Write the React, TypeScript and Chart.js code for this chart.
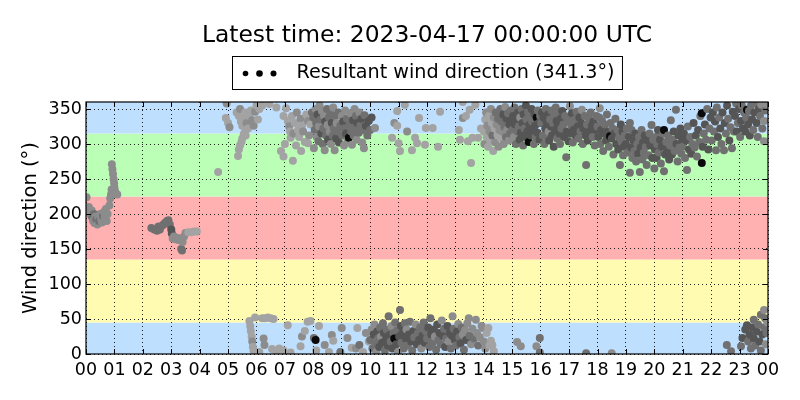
import { useEffect, useRef } from "react";
import { Chart, registerables } from "chart.js";

Chart.register(...registerables);

const TITLE = "Latest time: 2023-04-17 00:00:00 UTC";
const LEGEND_LABEL = "Resultant wind direction (341.3°)";
const Y_LABEL = "Wind direction (°)";
const FONT = "'DejaVu Sans', 'Liberation Sans', sans-serif";

const hourTicks = [0, 1, 2, 3, 4, 5, 6, 7, 8, 9, 10, 11, 12, 13, 14, 15, 16, 17, 18, 19, 20, 21, 22, 23, 24];
const hourLabels = ["00", "01", "02", "03", "04", "05", "06", "07", "08", "09", "10", "11", "12", "13", "14", "15", "16", "17", "18", "19", "20", "21", "22", "23", "00"];
const dirTicks = [0, 50, 100, 150, 200, 250, 300, 350];

const bandEdges = [0, 45, 135, 225, 315, 360];
const bandColors = ["#bfdfff", "#fffbb0", "#ffb0b0", "#bbffb7", "#bfdfff"];
const shadeColors = ["#ffffff", "#a3a3a3", "#8c8c8c", "#707070", "#555555", "#0a0a0a"];

// [hour of day, direction in degrees, shade level 1..5]
type Obs = [number, number, number];

const dir00to05: Obs[] = [
  [0.02, 224, 2], [0.05, 208, 2], [0.08, 203, 2], [0.1, 210, 2], [0.13, 206, 2], [0.16, 199, 2], [0.2, 205, 2],
  [0.22, 195, 3], [0.25, 190, 2], [0.28, 200, 3], [0.3, 187, 2], [0.33, 196, 2], [0.36, 192, 3], [0.4, 185, 2],
  [0.43, 195, 2], [0.46, 190, 3], [0.5, 200, 2], [0.53, 193, 2], [0.56, 188, 2], [0.6, 197, 3], [0.63, 203, 2],
  [0.66, 195, 2], [0.7, 207, 2], [0.73, 190, 2], [0.76, 200, 2], [0.82, 212, 2], [0.85, 222, 2], [0.88, 228, 2],
  [0.9, 235, 2], [0.91, 271, 2], [0.93, 264, 2], [0.95, 257, 2], [0.97, 250, 2], [0.99, 244, 2], [1.0, 238, 2],
  [1.02, 233, 2], [1.05, 229, 2], [1.1, 228, 2],
  [2.3, 180, 3], [2.4, 178, 3], [2.5, 176, 3], [2.55, 182, 3], [2.6, 178, 3], [2.7, 184, 3], [2.75, 186, 3],
  [2.8, 188, 3], [2.85, 190, 3], [2.9, 191, 3], [2.95, 185, 3], [3.0, 178, 4], [3.02, 172, 4], [3.05, 165, 2],
  [3.1, 168, 2], [3.15, 164, 2], [3.2, 166, 2], [3.25, 163, 2], [3.3, 165, 2], [3.35, 150, 3], [3.38, 148, 3],
  [3.4, 160, 2], [3.45, 168, 2], [3.5, 173, 2], [3.6, 174, 1], [3.7, 174, 1], [3.8, 175, 1], [3.9, 175, 1],
];

const dir05to08Top: Obs[] = [
  [4.65, 260, 1], [4.92, 337, 1], [4.95, 358, 2], [5.0, 330, 1], [5.05, 324, 2], [5.3, 345, 1], [5.35, 283, 1],
  [5.38, 292, 1], [5.38, 340, 1], [5.42, 350, 2], [5.42, 298, 1], [5.45, 332, 1], [5.47, 303, 1], [5.5, 326, 1],
  [5.5, 308, 1], [5.55, 336, 1], [5.55, 314, 1], [5.6, 345, 1], [5.6, 318, 1], [5.62, 312, 1], [5.65, 330, 2],
  [5.7, 322, 1], [5.75, 340, 1], [5.8, 348, 1], [5.85, 334, 2], [5.9, 326, 2], [5.95, 346, 2], [6.0, 355, 1],
  [6.05, 335, 1], [6.1, 350, 1], [6.2, 355, 1], [6.45, 357, 1], [6.7, 352, 1], [6.86, 290, 1], [6.95, 282, 1],
  [6.95, 340, 1], [7.0, 300, 1], [7.04, 351, 1], [7.1, 333, 1], [7.15, 325, 2], [7.18, 318, 1], [7.2, 309, 1],
  [7.25, 340, 1], [7.28, 276, 1], [7.3, 315, 2], [7.35, 330, 1], [7.39, 298, 1], [7.42, 345, 2], [7.46, 320, 1],
  [7.5, 310, 1], [7.55, 336, 2], [7.57, 290, 1], [7.6, 326, 1], [7.64, 318, 2], [7.7, 303, 1], [7.75, 342, 1],
  [7.81, 333, 2], [7.81, 301, 1], [7.85, 312, 2], [7.9, 328, 1], [7.95, 345, 3],
];

const dir05to08Low: Obs[] = [
  [5.75, 47, 1], [5.78, 40, 1], [5.8, 33, 1], [5.83, 25, 1], [5.85, 18, 2], [5.87, 10, 1], [5.9, 4, 1],
  [5.95, 52, 1], [6.1, 3, 1], [6.2, 51, 1], [6.25, 22, 2], [6.28, 13, 2], [6.3, 51, 1], [6.4, 52, 1],
  [6.5, 51, 1], [6.55, 7, 1], [6.6, 50, 1], [6.7, 3, 1], [6.8, 8, 1], [6.95, 5, 1], [7.1, 41, 1], [7.2, 2, 1],
  [7.55, 11, 1], [7.6, 25, 2], [7.7, 33, 1], [7.8, 46, 1], [7.9, 47, 1],
];

const dir08to10Top: Obs[] = [
  [8.0, 338, 3], [8.02, 294, 2], [8.05, 320, 3], [8.08, 350, 2], [8.1, 330, 3], [8.12, 310, 2], [8.15, 342, 4],
  [8.18, 304, 3], [8.2, 325, 2], [8.22, 355, 2], [8.25, 335, 3], [8.28, 315, 4], [8.3, 347, 2], [8.33, 300, 3],
  [8.35, 322, 3], [8.38, 340, 2], [8.4, 291, 2], [8.42, 332, 4], [8.45, 312, 3], [8.48, 350, 3], [8.5, 327, 2],
  [8.52, 306, 4], [8.55, 338, 3], [8.58, 318, 2], [8.6, 345, 3], [8.62, 300, 2], [8.65, 330, 4], [8.68, 312, 3],
  [8.7, 352, 2], [8.72, 322, 3], [8.75, 291, 2], [8.78, 340, 3], [8.8, 308, 4], [8.82, 330, 2], [8.85, 318, 3],
  [8.88, 345, 3], [8.9, 302, 4], [8.95, 326, 3], [9.0, 340, 2], [9.02, 312, 3], [9.05, 332, 4], [9.08, 298, 2],
  [9.1, 322, 3], [9.12, 348, 2], [9.15, 315, 4], [9.18, 336, 3], [9.2, 305, 2], [9.25, 309, 5], [9.28, 328, 3],
  [9.3, 344, 2], [9.33, 318, 3], [9.36, 299, 2], [9.4, 334, 4], [9.42, 312, 3], [9.45, 350, 2], [9.48, 324, 3],
  [9.5, 340, 3], [9.52, 306, 2], [9.55, 330, 4], [9.6, 316, 3], [9.62, 345, 2], [9.65, 326, 3], [9.7, 336, 4],
  [9.72, 302, 2], [9.75, 320, 3], [9.78, 294, 2], [9.8, 341, 3], [9.85, 326, 4], [9.9, 312, 3], [9.95, 333, 4],
  [10.0, 320, 3], [10.05, 338, 4], [10.17, 323, 2],
];

const dir08to10Low: Obs[] = [
  [8.02, 23, 3], [8.08, 20, 5], [8.1, 5, 1], [8.2, 40, 1], [8.4, 13, 2], [8.55, 3, 1], [8.65, 27, 2],
  [8.7, 19, 1], [8.95, 3, 3], [9.0, 37, 2], [9.2, 23, 2], [9.35, 9, 1], [9.5, 8, 2], [9.55, 37, 1],
  [9.62, 13, 3], [9.75, 3, 1], [9.85, 30, 2], [9.95, 18, 1],
];

const dir10to14Top: Obs[] = [
  [10.77, 309, 1], [10.85, 330, 2], [10.95, 347, 1], [10.95, 326, 1], [11.0, 301, 1], [11.05, 290, 1],
  [11.22, 356, 1], [11.3, 318, 2], [11.47, 291, 1], [11.58, 309, 1], [11.65, 301, 1], [11.72, 337, 1],
  [11.93, 299, 1], [11.96, 323, 1], [12.2, 323, 1], [12.39, 296, 1], [12.46, 346, 1], [13.12, 320, 1],
  [13.16, 306, 1], [13.26, 337, 2], [13.26, 360, 1], [13.37, 340, 1], [13.44, 304, 1], [13.5, 349, 1],
  [13.55, 273, 1], [13.6, 309, 1], [13.7, 356, 1], [13.8, 309, 1], [13.9, 322, 1],
];

const dir10to12Low: Obs[] = [
  [10.0, 20, 3], [10.05, 35, 2], [10.08, 8, 3], [10.12, 28, 4], [10.15, 42, 2], [10.18, 15, 3], [10.22, 3, 2],
  [10.25, 32, 4], [10.28, 22, 3], [10.32, 10, 4], [10.35, 38, 3], [10.38, 25, 2], [10.42, 16, 4], [10.45, 44, 3],
  [10.48, 30, 4], [10.52, 5, 3], [10.55, 20, 4], [10.58, 35, 3], [10.62, 12, 4], [10.65, 54, 3], [10.68, 27, 4],
  [10.72, 18, 3], [10.75, 40, 2], [10.78, 8, 4], [10.82, 30, 3], [10.85, 22, 5], [10.88, 45, 3], [10.92, 14, 4],
  [10.95, 34, 3], [10.98, 3, 2], [11.02, 25, 4], [11.05, 63, 3], [11.08, 40, 4], [11.1, 16, 3], [11.14, 30, 4],
  [11.18, 8, 3], [11.22, 44, 3], [11.25, 22, 4], [11.28, 35, 2], [11.32, 12, 3], [11.36, 28, 4], [11.4, 46, 3],
  [11.44, 18, 4], [11.48, 5, 3], [11.52, 33, 4], [11.55, 24, 3], [11.6, 42, 2], [11.64, 14, 4], [11.68, 30, 3],
  [11.72, 20, 4], [11.76, 38, 3], [11.8, 8, 2], [11.84, 26, 4], [11.88, 45, 3], [11.92, 16, 4], [11.96, 32, 3],
];

const dir12to15Low: Obs[] = [
  [12.0, 22, 3], [12.04, 38, 4], [12.08, 10, 3], [12.12, 51, 3], [12.15, 28, 4], [12.2, 16, 3], [12.24, 35, 4],
  [12.28, 25, 2], [12.32, 6, 3], [12.36, 42, 4], [12.4, 20, 3], [12.44, 30, 4], [12.48, 14, 3], [12.52, 48, 2],
  [12.56, 26, 4], [12.6, 36, 3], [12.64, 10, 4], [12.68, 22, 3], [12.72, 40, 4], [12.76, 18, 2], [12.8, 30, 4],
  [12.84, 8, 3], [12.88, 26, 4], [12.9, 54, 2], [12.94, 36, 3], [12.98, 20, 4], [13.02, 12, 3], [13.06, 32, 4],
  [13.1, 43, 2], [13.14, 24, 3], [13.18, 15, 4], [13.22, 38, 3], [13.26, 28, 2], [13.3, 6, 3], [13.34, 34, 2],
  [13.38, 20, 4], [13.42, 44, 2], [13.47, 51, 2], [13.5, 26, 3], [13.55, 14, 2], [13.6, 36, 2], [13.65, 22, 3],
  [13.72, 49, 2], [13.76, 30, 2], [13.8, 12, 3], [13.86, 24, 2], [13.92, 40, 2], [13.97, 37, 2], [14.0, 18, 2],
  [14.05, 8, 2], [14.1, 30, 1], [14.16, 37, 1], [14.2, 12, 1], [14.25, 19, 1], [14.3, 13, 1], [14.35, 4, 1],
];

const dir14to16Top: Obs[] = [
  [14.0, 318, 1], [14.02, 300, 2], [14.05, 335, 1], [14.08, 345, 2], [14.1, 310, 1], [14.12, 326, 2],
  [14.15, 296, 1], [14.18, 340, 1], [14.2, 318, 2], [14.22, 305, 1], [14.25, 350, 2], [14.28, 330, 1],
  [14.3, 312, 3], [14.33, 290, 1], [14.35, 338, 2], [14.38, 322, 1], [14.4, 302, 2], [14.42, 345, 3],
  [14.45, 328, 2], [14.48, 313, 1], [14.5, 336, 3], [14.52, 296, 2], [14.55, 320, 2], [14.58, 350, 3],
  [14.6, 308, 1], [14.62, 332, 3], [14.65, 318, 2], [14.68, 342, 4], [14.7, 300, 2], [14.72, 325, 3],
  [14.75, 353, 2], [14.78, 310, 3], [14.8, 336, 4], [14.82, 320, 2], [14.85, 344, 3], [14.88, 305, 2],
  [14.9, 328, 4], [14.92, 315, 3], [14.95, 348, 3], [14.98, 333, 4], [15.0, 320, 3], [15.03, 340, 4],
  [15.06, 310, 2], [15.08, 352, 3], [15.1, 328, 4], [15.13, 300, 3], [15.16, 336, 4], [15.18, 318, 3],
  [15.2, 345, 4], [15.23, 325, 3], [15.26, 306, 4], [15.28, 338, 2], [15.3, 316, 4], [15.33, 350, 3],
  [15.36, 330, 4], [15.38, 298, 3], [15.4, 342, 4], [15.43, 322, 3], [15.46, 310, 4], [15.48, 355, 4],
  [15.5, 335, 3], [15.53, 318, 4], [15.56, 345, 3], [15.58, 303, 5], [15.6, 327, 4], [15.63, 340, 3],
  [15.66, 312, 4], [15.68, 350, 4], [15.7, 332, 3], [15.73, 320, 4], [15.76, 300, 3], [15.78, 343, 4],
  [15.8, 326, 4], [15.83, 310, 3], [15.86, 338, 5], [15.88, 316, 4], [15.9, 348, 3], [15.93, 330, 4],
  [15.96, 306, 4], [15.98, 340, 3],
];

const dir16to18Top: Obs[] = [
  [16.02, 330, 3], [16.05, 345, 4], [16.08, 312, 3], [16.1, 338, 4], [16.13, 300, 3], [16.16, 322, 4],
  [16.18, 350, 3], [16.2, 332, 4], [16.23, 310, 3], [16.26, 342, 4], [16.28, 318, 2], [16.3, 305, 4],
  [16.33, 335, 3], [16.36, 325, 4], [16.38, 348, 3], [16.4, 312, 4], [16.43, 330, 3], [16.46, 296, 4],
  [16.48, 340, 3], [16.5, 320, 4], [16.53, 352, 3], [16.56, 333, 4], [16.58, 308, 3], [16.6, 326, 4],
  [16.63, 343, 3], [16.66, 315, 4], [16.68, 300, 3], [16.7, 336, 4], [16.73, 322, 3], [16.76, 347, 4],
  [16.8, 328, 3], [16.83, 310, 4], [16.86, 340, 3], [16.9, 281, 3], [16.92, 318, 4], [16.95, 332, 3],
  [16.98, 304, 4], [17.0, 338, 3], [17.03, 354, 2], [17.05, 315, 4], [17.08, 326, 3], [17.1, 344, 4],
  [17.13, 302, 3], [17.16, 320, 4], [17.2, 335, 3], [17.23, 312, 4], [17.26, 346, 3], [17.3, 325, 4],
  [17.33, 308, 3], [17.36, 338, 4], [17.4, 318, 3], [17.43, 330, 4], [17.45, 349, 2], [17.48, 300, 3],
  [17.5, 322, 4], [17.55, 340, 3], [17.58, 312, 4], [17.6, 270, 3], [17.63, 328, 3], [17.66, 305, 4],
  [17.7, 336, 3], [17.73, 318, 4], [17.76, 345, 3], [17.8, 326, 4], [17.83, 310, 3], [17.86, 332, 4],
  [17.9, 298, 3], [17.93, 320, 4], [17.96, 340, 3],
];

const dir18to20Top: Obs[] = [
  [18.0, 325, 3], [18.03, 310, 4], [18.06, 338, 3], [18.08, 351, 2], [18.1, 300, 3], [18.13, 320, 4],
  [18.16, 333, 3], [18.2, 290, 3], [18.23, 315, 4], [18.26, 328, 3], [18.3, 305, 4], [18.33, 342, 3],
  [18.36, 318, 4], [18.4, 296, 3], [18.44, 311, 5], [18.46, 330, 3], [18.5, 308, 4], [18.53, 322, 3],
  [18.56, 285, 3], [18.6, 315, 4], [18.63, 336, 3], [18.66, 300, 4], [18.7, 320, 3], [18.73, 292, 4],
  [18.76, 310, 3], [18.79, 270, 3], [18.82, 328, 4], [18.85, 303, 3], [18.88, 318, 4], [18.9, 284, 3],
  [18.93, 296, 4], [18.96, 312, 3], [19.0, 300, 4], [19.03, 322, 3], [19.06, 288, 3], [19.1, 310, 4],
  [19.14, 330, 3], [19.14, 259, 3], [19.18, 295, 4], [19.2, 320, 3], [19.23, 280, 3], [19.26, 305, 4],
  [19.3, 290, 3], [19.33, 315, 4], [19.36, 275, 3], [19.4, 300, 3], [19.43, 286, 4], [19.46, 310, 3],
  [19.49, 260, 3], [19.52, 295, 4], [19.55, 320, 3], [19.58, 278, 3], [19.6, 302, 4], [19.63, 288, 3],
  [19.66, 312, 4], [19.7, 296, 3], [19.73, 270, 3], [19.76, 305, 4], [19.8, 284, 3], [19.83, 315, 3],
  [19.86, 298, 4], [19.9, 327, 3], [19.93, 280, 4], [19.96, 306, 3],
];

const dir20to22Top: Obs[] = [
  [20.0, 265, 3], [20.02, 292, 4], [20.05, 310, 3], [20.08, 280, 4], [20.1, 300, 3], [20.13, 320, 4],
  [20.16, 288, 3], [20.2, 306, 4], [20.23, 272, 3], [20.26, 296, 4], [20.3, 315, 3], [20.34, 320, 5],
  [20.34, 261, 3], [20.38, 285, 4], [20.42, 303, 3], [20.45, 292, 4], [20.48, 312, 3], [20.52, 278, 4],
  [20.55, 298, 3], [20.58, 334, 3], [20.62, 285, 4], [20.65, 306, 3], [20.68, 318, 4], [20.72, 290, 3],
  [20.76, 349, 3], [20.78, 300, 4], [20.82, 275, 3], [20.85, 312, 4], [20.88, 295, 3], [20.92, 322, 4],
  [20.95, 286, 3], [20.98, 305, 4], [21.0, 296, 3], [21.04, 315, 4], [21.08, 280, 3], [21.12, 305, 4],
  [21.15, 263, 3], [21.18, 325, 3], [21.22, 292, 4], [21.26, 310, 3], [21.3, 286, 4], [21.34, 300, 3],
  [21.38, 330, 4], [21.42, 295, 3], [21.46, 312, 4], [21.5, 282, 3], [21.54, 320, 4], [21.58, 303, 3],
  [21.62, 340, 3], [21.67, 273, 5], [21.67, 344, 5], [21.7, 296, 4], [21.74, 315, 3], [21.78, 328, 4],
  [21.82, 306, 3], [21.86, 350, 3], [21.9, 292, 4], [21.94, 322, 3], [21.98, 338, 4],
];

const dir22to24Top: Obs[] = [
  [22.02, 305, 3], [22.06, 345, 4], [22.1, 318, 3], [22.14, 332, 4], [22.17, 291, 3], [22.2, 352, 3],
  [22.24, 310, 4], [22.28, 338, 3], [22.32, 322, 4], [22.36, 300, 3], [22.4, 345, 4], [22.45, 291, 3],
  [22.48, 330, 4], [22.52, 315, 3], [22.56, 355, 4], [22.6, 336, 3], [22.64, 305, 4], [22.68, 324, 3],
  [22.73, 294, 3], [22.76, 346, 4], [22.8, 318, 3], [22.84, 340, 4], [22.88, 358, 3], [22.9, 318, 4],
  [22.94, 330, 3], [22.98, 350, 4], [23.02, 310, 3], [23.05, 333, 4], [23.08, 355, 3], [23.12, 322, 4],
  [23.16, 345, 3], [23.2, 318, 4], [23.23, 338, 3], [23.26, 349, 5], [23.3, 328, 4], [23.33, 347, 3],
  [23.36, 312, 4], [23.4, 355, 3], [23.44, 335, 4], [23.48, 320, 3], [23.52, 345, 4], [23.56, 358, 3],
  [23.6, 330, 4], [23.64, 310, 3], [23.68, 350, 4], [23.72, 340, 3], [23.76, 356, 2], [23.8, 322, 3],
  [23.86, 333, 2], [23.86, 304, 2], [23.9, 348, 3], [23.94, 357, 2],
];

const dir15to24Low: Obs[] = [
  [15.17, 17, 2], [15.3, 11, 2], [15.85, 11, 2], [15.97, 23, 3], [15.97, 2, 3], [17.6, 1, 3], [18.5, 1, 2],
  [22.55, 13, 3], [22.7, 4, 3], [23.05, 11, 3], [23.1, 23, 4], [23.2, 35, 4], [23.26, 41, 4], [23.3, 18, 3],
  [23.35, 28, 4], [23.4, 8, 3], [23.45, 38, 4], [23.5, 49, 3], [23.5, 22, 4], [23.55, 12, 3], [23.6, 32, 4],
  [23.65, 42, 3], [23.7, 18, 4], [23.75, 56, 3], [23.75, 5, 3], [23.8, 28, 4], [23.86, 63, 2], [23.86, 38, 3],
  [23.9, 51, 3], [23.92, 14, 2], [23.95, 30, 3], [23.98, 45, 2],
];

const observations: Obs[] = [
  ...dir00to05, ...dir05to08Top, ...dir05to08Low, ...dir08to10Top, ...dir08to10Low,
  ...dir10to14Top, ...dir10to12Low, ...dir12to15Low, ...dir14to16Top, ...dir16to18Top,
  ...dir18to20Top, ...dir20to22Top, ...dir22to24Top, ...dir15to24Low,
];

const decorPlugin = {
  id: "decor",
  beforeDraw(chart: any) {
    const { ctx, chartArea: a, scales } = chart;
    const y = scales.y;
    ctx.save();
    ctx.fillStyle = "#ffffff";
    ctx.fillRect(0, 0, chart.width, chart.height);
    for (let i = 0; i < bandColors.length; i++) {
      const y0 = y.getPixelForValue(bandEdges[i]);
      const y1 = y.getPixelForValue(bandEdges[i + 1]);
      ctx.fillStyle = bandColors[i];
      ctx.fillRect(a.left, y1, a.right - a.left, y0 - y1);
    }
    ctx.restore();
  },
  afterDraw(chart: any) {
    const { ctx, chartArea: a, scales } = chart;
    const x = scales.x;
    const y = scales.y;
    ctx.save();
    // inward ticks
    ctx.strokeStyle = "#000";
    ctx.lineWidth = 1;
    ctx.beginPath();
    for (const v of hourTicks) {
      const px = Math.round(x.getPixelForValue(v)) + 0.5;
      ctx.moveTo(px, a.bottom);
      ctx.lineTo(px, a.bottom - 5);
      ctx.moveTo(px, a.top);
      ctx.lineTo(px, a.top + 5);
    }
    for (const v of dirTicks) {
      const py = Math.round(y.getPixelForValue(v)) + 0.5;
      ctx.moveTo(a.left, py);
      ctx.lineTo(a.left + 5, py);
      ctx.moveTo(a.right, py);
      ctx.lineTo(a.right - 5, py);
    }
    ctx.stroke();
    // frame
    ctx.strokeStyle = "#000";
    ctx.lineWidth = 1.2;
    ctx.strokeRect(a.left, a.top, a.right - a.left, a.bottom - a.top);

    const cx = (a.left + a.right) / 2;
    // title
    ctx.fillStyle = "#000";
    ctx.font = `23.4px ${FONT}`;
    ctx.textAlign = "center";
    ctx.textBaseline = "alphabetic";
    ctx.fillText(TITLE, cx, 42);

    // legend
    ctx.font = `19.2px ${FONT}`;
    const tw = ctx.measureText(LEGEND_LABEL).width;
    const boxW = 64 + tw + 8;
    const boxH = 33;
    const bx = Math.round(cx - boxW / 2) + 0.5;
    const by = 56.5;
    ctx.fillStyle = "#fff";
    ctx.fillRect(bx, by, boxW, boxH);
    ctx.strokeStyle = "#000";
    ctx.lineWidth = 1;
    ctx.strokeRect(bx, by, boxW, boxH);
    ctx.fillStyle = "#000";
    const dotR = [2.8, 3.3, 3.0];
    [13, 27, 41].forEach((dx, i) => {
      ctx.beginPath();
      ctx.arc(bx + dx, by + 17, dotR[i], 0, Math.PI * 2);
      ctx.fill();
    });
    ctx.textAlign = "left";
    ctx.textBaseline = "middle";
    ctx.fillText(LEGEND_LABEL, bx + 64, by + 16.5);
    ctx.restore();
  },
};

export default function App() {
  const canvasRef = useRef<HTMLCanvasElement | null>(null);

  useEffect(() => {
    const canvas = canvasRef.current;
    if (!canvas) return;
    const points = observations.map(([h, d]) => ({ x: h, y: d }));
    const colors = observations.map(([, , s]) => shadeColors[s]);

    const chart = new Chart(canvas, {
      type: "scatter",
      data: {
        datasets: [
          {
            label: LEGEND_LABEL,
            data: points,
            pointRadius: 4,
            pointHoverRadius: 4,
            pointBorderWidth: 0,
            pointBackgroundColor: colors,
            borderColor: "rgba(0,0,0,0)",
            showLine: false,
            clip: 0,
          } as any,
        ],
      },
      options: {
        responsive: false,
        animation: false,
        events: [],
        layout: { padding: { top: 102, right: 32, left: 0, bottom: 0 } },
        plugins: {
          legend: { display: false },
          title: { display: false },
          tooltip: { enabled: false },
        },
        scales: {
          x: {
            type: "linear",
            min: 0,
            max: 24,
            afterBuildTicks: (s: any) => {
              s.ticks = hourTicks.map((v) => ({ value: v }));
            },
            afterFit: (s: any) => {
              s.height = 46;
            },
            ticks: {
              autoSkip: false,
              maxRotation: 0,
              padding: 6,
              color: "#000",
              font: { family: FONT, size: 17.5 },
              callback: (v: any) => hourLabels[hourTicks.indexOf(Number(v))],
            },
            grid: { color: "rgba(0,0,0,0.85)", lineWidth: 1, drawTicks: false },
            border: { display: false, dash: [1, 3] },
          },
          y: {
            type: "linear",
            min: 0,
            max: 360,
            afterBuildTicks: (s: any) => {
              s.ticks = dirTicks.map((v) => ({ value: v }));
            },
            afterFit: (s: any) => {
              s.width = 86;
            },
            ticks: {
              padding: 4,
              color: "#000",
              font: { family: FONT, size: 17.5 },
              callback: (v: any) => String(v),
            },
            grid: { color: "rgba(0,0,0,0.85)", lineWidth: 1, drawTicks: false },
            border: { display: false, dash: [1, 3] },
            title: {
              display: true,
              text: Y_LABEL,
              color: "#000",
              font: { family: FONT, size: 19.5 },
              padding: { top: 19, bottom: 0 },
            },
          },
        },
      },
      plugins: [decorPlugin],
    } as any);

    return () => chart.destroy();
  }, []);

  return (
    <div style={{ position: "absolute", left: 0, top: 0, width: 800, height: 400 }}>
      <canvas ref={canvasRef} width={800} height={400} style={{ display: "block" }} />
    </div>
  );
}
